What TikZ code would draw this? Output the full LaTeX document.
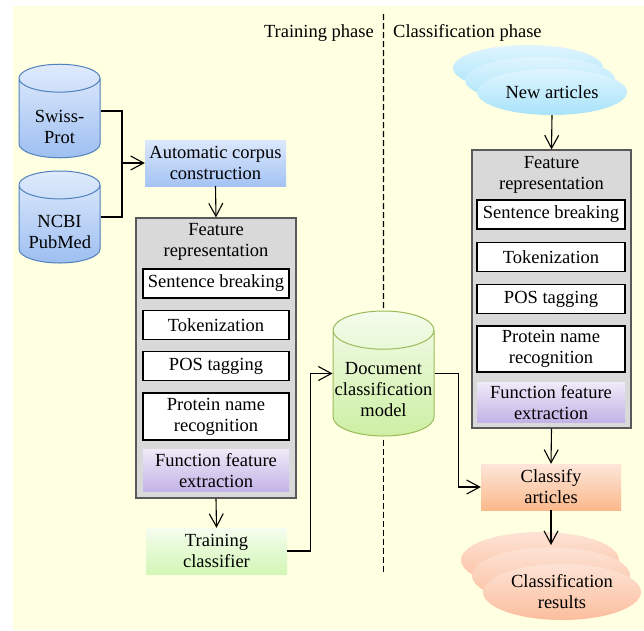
\documentclass[tikz,border=0pt]{standalone}
\usepackage{fontspec}
\setmainfont{Liberation Serif}
\usetikzlibrary{positioning,shapes.geometric,arrows.meta}

\definecolor{bgyellow}{HTML}{FFFFE1}
\definecolor{featgray}{HTML}{D9D9D9}
\definecolor{featdraw}{HTML}{595959}
\definecolor{cylblue}{HTML}{4F81BD}
\definecolor{cylgreen}{HTML}{9BBB59}
\definecolor{cylBTop}{HTML}{E0EBFC}
\definecolor{cylBBot}{HTML}{9EBFF1}
\definecolor{cylGTop}{HTML}{F4FCEC}
\definecolor{cylGBot}{HTML}{CDEFA3}
\definecolor{corpusTop}{HTML}{DCE8FC}
\definecolor{corpusBot}{HTML}{A4C3F4}
\definecolor{funcTop}{HTML}{EEE9F8}
\definecolor{funcBot}{HTML}{C3B2E6}
\definecolor{trainTop}{HTML}{F5FDEF}
\definecolor{trainBot}{HTML}{D3F6B6}
\definecolor{classTop}{HTML}{FDE6D9}
\definecolor{classBot}{HTML}{FBB98B}
\definecolor{newTop}{HTML}{DFF5FE}
\definecolor{newBot}{HTML}{A9E3FA}
\definecolor{resTop}{HTML}{FDE3D5}
\definecolor{resBot}{HTML}{FBBE9D}

\tikzstyle{Cylinder}=[cylinder, shape border rotate=90, line width=1pt, align=center, inner sep=0pt, anchor=shape center]
\tikzstyle{DataBase}=[Cylinder, text width=62pt, shape aspect=0.45, draw=cylblue, top color=cylBTop, bottom color=cylBBot, minimum width=81pt, minimum height=92pt]
\tikzstyle{ModelBase}=[Cylinder, text width=98pt, shape aspect=0.39, draw=cylgreen, top color=cylGTop, bottom color=cylGBot, minimum width=101pt, minimum height=117pt]
\tikzstyle{FeatureBox}=[rectangle, draw=featdraw, fill=featgray, line width=1.2pt]
\tikzstyle{StepBox}=[rectangle, draw=black, fill=white, line width=1.3pt, minimum width=146pt, minimum height=29pt, inner sep=0pt, align=center]
\tikzstyle{GradBox}=[rectangle, minimum width=141pt, minimum height=46pt, inner sep=0pt, align=center]
\tikzstyle{FuncBox}=[GradBox, top color=funcTop, bottom color=funcBot]
\tikzstyle{NewCloud}=[ellipse, inner sep=0pt, align=center, minimum width=150pt, minimum height=46pt, top color=newTop, bottom color=newBot]
\tikzstyle{ResCloud}=[ellipse, inner sep=0pt, align=center, minimum width=158pt, minimum height=56pt, top color=resTop, bottom color=resBot]
\tikzstyle{Line}=[line width=1.1pt]
\tikzstyle{Arrow}=[-{Straight Barb[length=13pt,width=14pt]}, line width=1.1pt]
\tikzstyle{PhaseLine}=[dash pattern=on 6pt off 3pt, line width=1.1pt]

\begin{document}
\begin{tikzpicture}[x=1pt, y=-1pt, font=\fontsize{18.5}{21}\selectfont]
			\useasboundingbox (0,0) rectangle (644,630);
			\fill[bgyellow] (13,6) rectangle (644,630);

			%Phases
			\node[inner sep=0pt, anchor=base east]	(train_phase)	at (374,37)	{Training phase};
			\node[inner sep=0pt, anchor=base west]	(class_phase)	at (393,37)	{Classification phase};

			%Training nodes
			\node[DataBase]	(swiss)	at (59.5,111)	{\rule{0pt}{30pt}Swiss-\\Prot};
			\node[DataBase]	(ncbi)	at (59.5,217)	{\rule{0pt}{28pt}NCBI\\PubMed};
			\node[GradBox, top color=corpusTop, bottom color=corpusBot]	(corpus)	at (215.5,163)	{Automatic corpus\\construction};

			\node[FeatureBox, minimum width=160pt, minimum height=280pt]	(featL)	at (216,358)	{};
			\node[align=center, inner sep=0pt]	(featL_title)	at (216,242)	{Feature\\representation};
			\node[StepBox]	(sentL)	at (216,283.5)	{Sentence breaking};
			\node[StepBox]	(tokL)	[below=11pt of sentL]	{Tokenization};
			\node[StepBox]	(posL)	[below=11pt of tokL]	{POS tagging};
			\node[StepBox, minimum height=47pt]	(protL)	[below=11pt of posL]	{Protein name\\recognition};
			\node[FuncBox, minimum width=146pt, minimum height=42pt]	(funcL)	[below=9pt of protL]	{Function feature\\extraction};

			\node[GradBox, top color=trainTop, bottom color=trainBot]	(training)	at (216.5,551)	{Training\\classifier};

			\node[ModelBase]	(model)	at (383.5,373.5)	{\rule{0pt}{25pt}Document\\classification\\model};

			%Classification nodes
			\node[NewCloud]	(new1)	at (528,68)	{};
			\node[NewCloud]	(new2)	at (540,80)	{};
			\node[NewCloud]	(new3)	at (552,92)	{New articles};

			\node[FeatureBox, minimum width=159pt, minimum height=278pt]	(featR)	at (551.5,289)	{};
			\node[align=center, inner sep=0pt]	(featR_title)	at (551.5,174.5)	{Feature\\representation};
			\node[StepBox, minimum width=148pt]	(sentR)	at (551,214.5)	{Sentence breaking};
			\node[StepBox, minimum width=148pt]	(tokR)	[below=12pt of sentR]	{Tokenization};
			\node[StepBox, minimum width=148pt]	(posR)	[below=12pt of tokR]	{POS tagging};
			\node[StepBox, minimum width=148pt, minimum height=46pt]	(protR)	[below=11pt of posR]	{Protein name\\recognition};
			\node[FuncBox, minimum width=148pt, minimum height=40pt]	(funcR)	[below=10pt of protR]	{Function feature\\extraction};

			\node[GradBox, minimum width=140pt, top color=classTop, bottom color=classBot]	(classify)	at (551,487)	{Classify\\articles};

			\node[ResCloud]	(res1)	at (540,560)	{};
			\node[ResCloud]	(res2)	at (551,575.5)	{};
			\node[ResCloud]	(res3)	at (562,592)	{Classification\\results};

			\coordinate	(src_join)	at (122,163);
			\coordinate	(res_tip)	at (551,545);
			\coordinate	(phase_top)	at (383.5,14);
			\coordinate	(phase_bot)	at (383.5,573);

			%Lines
			\draw[PhaseLine] (phase_top) -- (model.north);
			\draw[PhaseLine] ([yshift=-3pt]model.south) -- (phase_bot);

			\draw[Line] (swiss.shape center -| swiss.east) -| (src_join);
			\draw[Line] (ncbi.shape center -| ncbi.east) -| (src_join);
			\draw[Arrow] (src_join) -- (corpus.west);
			\draw[Arrow] (corpus.south) -- (featL.north);
			\draw[Arrow] (featL.south) -- (training.north);
			\draw[Arrow] (training.east) -- ++(23,0) |- (model.shape center -| model.west);
			\draw[Arrow] (model.shape center -| model.east) -- ++(24,0) |- (classify.west);
			\draw[Arrow] (new3.south) -- (featR.north);
			\draw[Arrow] (featR.south) -- (classify.north);
			\draw[Arrow] (classify.south) -- (res_tip);

		\end{tikzpicture}
\end{document}
